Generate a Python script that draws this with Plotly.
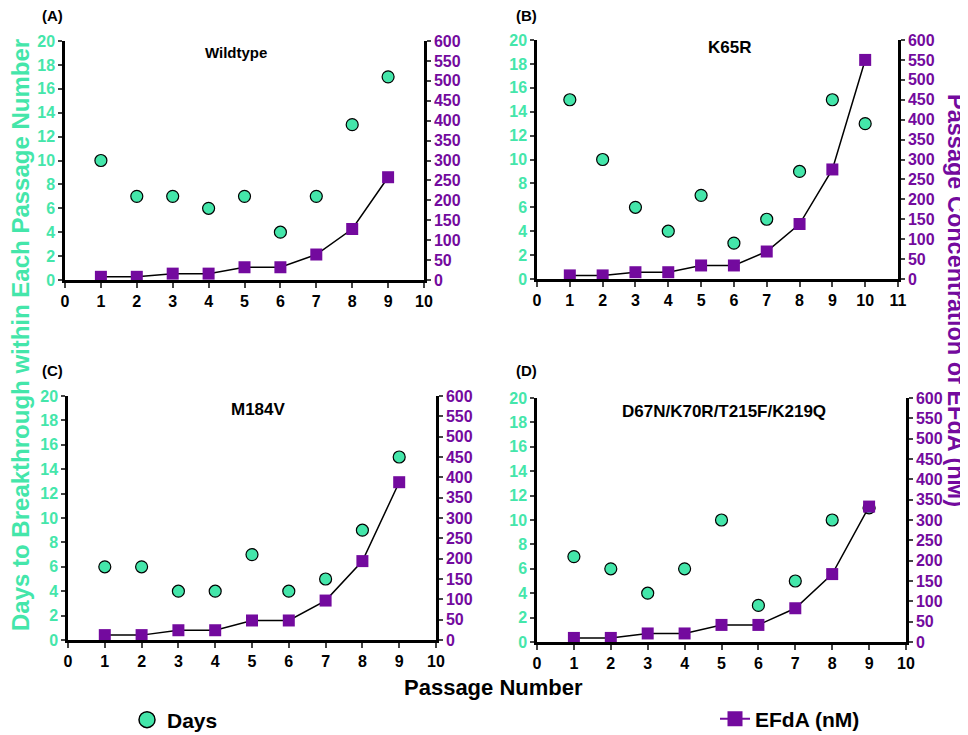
import plotly.graph_objects as go

# ---------------- data ----------------
passages_9 = [1, 2, 3, 4, 5, 6, 7, 8, 9]
passages_10 = [1, 2, 3, 4, 5, 6, 7, 8, 9, 10]

wt_days = [10, 7, 7, 6, 7, 4, 7, 13, 17]
wt_efda = [8, 8, 16, 16, 32, 32, 64, 128, 258]

k65r_days = [15, 10, 6, 4, 7, 3, 5, 9, 15, 13]
k65r_efda = [9, 9, 17, 17, 34, 34, 69, 138, 275, 550]

m184v_days = [6, 6, 4, 4, 7, 4, 5, 9, 15]
m184v_efda = [12, 12, 24, 24, 48, 48, 97, 194, 388]

tam_days = [7, 6, 4, 6, 10, 3, 5, 10, 11]
tam_efda = [10, 10, 21, 21, 42, 42, 83, 167, 333]

panel_labels = ["(A)", "(B)", "(C)", "(D)"]
panel_titles = ["Wildtype", "K65R", "M184V", "D67N/K70R/T215F/K219Q"]

days_ticks = list(range(0, 21, 2))
efda_ticks = list(range(0, 601, 50))

GREEN = "#44E6AA"
PURPLE = "#730A9E"
FONT = "Liberation Sans, Arial, sans-serif"

# the page body has an 8px margin; the figure is sized to end at the window edge
OFF = 8
W, H = 968 - OFF, 735 - OFF

def px_x(p):
    return (p - OFF) / W

def px_y(p):
    return 1 - (p - OFF) / H

# plot rectangles in window-pixel coordinates (left, right, top, bottom)
rects = [(65, 424, 41, 280), (537, 898, 40, 279), (68, 436, 396, 640), (537, 906, 398, 642)]
xmax = [10, 11, 10, 10]
xs = [passages_9, passages_10, passages_9, passages_9]
days = [wt_days, k65r_days, m184v_days, tam_days]
efda = [wt_efda, k65r_efda, m184v_efda, tam_efda]

fig = go.Figure()
layout = {}
for i in range(4):
    n = i + 1
    xa = "x" if n == 1 else f"x{n}"
    ya_l = f"y{2*n-1}" if n > 1 else "y"
    ya_r = f"y{2*n}"
    l, r, t, b = rects[i]
    xdom = [px_x(l), px_x(r)]
    ydom = [px_y(b), px_y(t)]
    xkey = "xaxis" if n == 1 else f"xaxis{n}"
    ylkey = "yaxis" if n == 1 else f"yaxis{2*n-1}"
    yrkey = f"yaxis{2*n}"
    layout[xkey] = dict(
        domain=xdom, anchor=ya_l, range=[0, xmax[i]], tickmode="array", automargin=False,
        tickvals=list(range(0, xmax[i] + 1)), ticks="outside", ticklen=5, tickwidth=2,
        showline=True, linecolor="black", linewidth=2.5, showgrid=False, zeroline=False,
        tickfont=dict(family=FONT, size=16, color="black", weight="bold"),
    )
    layout[ylkey] = dict(
        domain=ydom, anchor=xa, range=[0, 20], tickmode="array", tickvals=days_ticks,
        automargin=False,
        ticks="outside", ticklen=4, tickwidth=1.5, showline=True, linecolor="black",
        linewidth=2.5, showgrid=False, zeroline=False,
        tickfont=dict(family=FONT, size=16, color=GREEN, weight="bold"),
    )
    layout[yrkey] = dict(
        domain=ydom, anchor=xa, overlaying=ya_l, side="right", range=[0, 600],
        automargin=False,
        tickmode="array", tickvals=efda_ticks, ticks="outside", ticklen=4, tickwidth=1.5,
        showline=True, linecolor="black", linewidth=2.5, showgrid=False, zeroline=False,
        tickfont=dict(family=FONT, size=16, color=PURPLE, weight="bold"),
    )
    fig.add_trace(go.Scatter(
        x=xs[i], y=efda[i], xaxis=xa, yaxis=ya_r, mode="lines+markers",
        line=dict(color="black", width=1.5),
        marker=dict(symbol="square", size=12, color=PURPLE),
        name="EFdA (nM)", showlegend=False, cliponaxis=False,
    ))
    fig.add_trace(go.Scatter(
        x=xs[i], y=days[i], xaxis=xa, yaxis=ya_l, mode="markers",
        marker=dict(symbol="circle", size=12, color=GREEN, line=dict(color="black", width=1.2)),
        name="Days", showlegend=False, cliponaxis=False,
    ))

# legend-only entries (larger symbols, as in the figure key)
fig.add_trace(go.Scatter(
    x=[None], y=[None], mode="markers", name="Days", legend="legend",
    marker=dict(symbol="circle", size=16, color=GREEN, line=dict(color="black", width=1.5)),
))
fig.add_trace(go.Scatter(
    x=[None], y=[None], mode="lines+markers", name="EFdA (nM)", legend="legend2",
    line=dict(color=PURPLE, width=2),
    marker=dict(symbol="square", size=15, color=PURPLE),
))

annotations = []
label_pos = [(40, 15), (514, 15), (40, 370), (514, 370)]
title_pos = [(236, 52), (729, 48), (258, 409), (724, 411)]
title_sizes = [15, 17, 17, 17]
for i in range(4):
    lx, ly = label_pos[i]
    annotations.append(dict(text=panel_labels[i], x=px_x(lx), y=px_y(ly), xref="paper", yref="paper",
                            xanchor="left", yanchor="middle", showarrow=False,
                            font=dict(family=FONT, size=15, color="black", weight="bold")))
    tx, ty = title_pos[i]
    annotations.append(dict(text=panel_titles[i], x=px_x(tx), y=px_y(ty), xref="paper", yref="paper",
                            xanchor="center", yanchor="middle", showarrow=False,
                            font=dict(family=FONT, size=title_sizes[i], color="black", weight="bold")))

annotations.append(dict(text="Days to Breakthrough within Each Passage Number", x=px_x(21), y=px_y(335),
                        xref="paper", yref="paper", textangle=-90, showarrow=False,
                        xanchor="center", yanchor="middle",
                        font=dict(family=FONT, size=24, color=GREEN, weight="bold")))
annotations.append(dict(text="Passage Concentration of EFdA (nM)", x=px_x(956), y=px_y(300),
                        xref="paper", yref="paper", textangle=90, showarrow=False,
                        xanchor="center", yanchor="middle",
                        font=dict(family=FONT, size=23.5, color=PURPLE, weight="bold")))
annotations.append(dict(text="Passage Number", x=px_x(493), y=px_y(687), xref="paper", yref="paper",
                        showarrow=False, xanchor="center", yanchor="middle",
                        font=dict(family=FONT, size=22, color="black", weight="bold")))

fig.update_layout(
    width=W, height=H, margin=dict(l=0, r=0, t=0, b=0, autoexpand=False),
    paper_bgcolor="white", plot_bgcolor="white",
    annotations=annotations,
    legend=dict(x=px_x(127), y=px_y(720), xanchor="left", yanchor="middle", bgcolor="rgba(0,0,0,0)",
                font=dict(family=FONT, size=21, color="black", weight="bold")),
    legend2=dict(x=px_x(715), y=px_y(719), xanchor="left", yanchor="middle", bgcolor="rgba(0,0,0,0)",
                 font=dict(family=FONT, size=21, color="black", weight="bold")),
    **layout,
)

fig.write_html("out.html")
